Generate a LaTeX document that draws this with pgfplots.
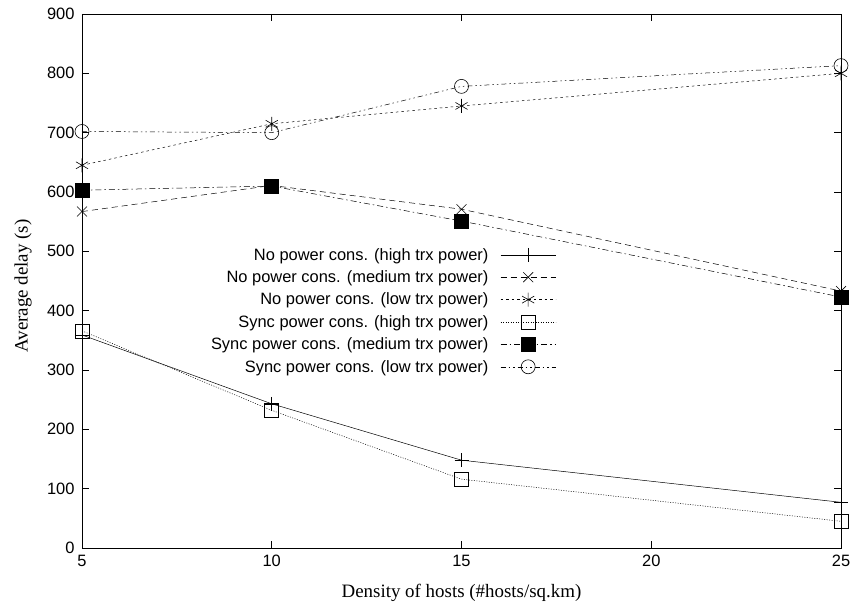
\documentclass[border=0pt]{standalone}
\usepackage{fontspec}
\setmainfont{Liberation Sans}
\newfontfamily\serif{Liberation Serif}
\usepackage{pgfplots}
\pgfplotsset{compat=1.18}
\begin{document}
\begin{tikzpicture}
\begin{axis}[
  width=759bp, height=534bp, scale only axis,
  xmin=5, xmax=25, ymin=0, ymax=900,
  xtick={5,10,15,20,25}, ytick={0,100,...,900},
  tick align=inside, major tick length=7bp,
  tick style={line width=0.6pt, black},
  axis line style={line width=0.8pt},
  /pgf/number format/assume math mode=true,
  tick label style={font=\fontsize{16.5}{18}\selectfont},
  yticklabel style={xshift=-4bp},
  xticklabel style={yshift=-4bp},
  xlabel={\serif Density of hosts (\#hosts/sq.km)},
  ylabel={\serif Average delay (s)},
  label style={font=\fontsize{19}{21}\selectfont},
  xlabel style={at={(axis description cs:0.5,0)}, anchor=base, yshift=-50bp},
  ylabel style={at={(axis description cs:-0.0777,0.4906)}, anchor=center},
  legend plot pos=right,
  legend cell align=right,
  legend style={draw=none, fill=none, at={(0.626,0.5675)}, anchor=north east,
    font=\fontsize{16.5}{18}\selectfont, row sep=5bp, inner sep=1bp,
    /tikz/every odd column/.append style={column sep=10bp}},
  legend image code/.code={\draw[mark repeat=2,mark phase=2,#1] plot coordinates {(0bp,0bp) (27.5bp,0bp) (55bp,0bp)};},
  every axis plot/.append style={line width=0.5pt, black, mark size=7bp, mark options={solid, line width=0.6pt}},
]
\coordinate (sw) at (rel axis cs:0,0);
\coordinate (ne) at (rel axis cs:1,1);
\addplot[mark=+] coordinates {(5,359) (10,243) (15,148) (25,77)};
\addlegendentry{No power cons. (high trx power)}
\addplot[mark=x, dash pattern=on 6bp off 4bp] coordinates {(5,567) (10,611) (15,571) (25,433)};
\addlegendentry{No power cons. (medium trx power)}
\addplot[mark=asterisk, dash pattern=on 2.5bp off 3bp] coordinates {(5,645) (10,715) (15,745) (25,800)};
\addlegendentry{No power cons. (low trx power)}
\addplot[mark=square, dash pattern=on 1bp off 1.5bp] coordinates {(5,366) (10,232) (15,116) (25,45)};
\addlegendentry{Sync power cons. (high trx power)}
\addplot[mark=square*, dash pattern=on 6bp off 3bp on 1.5bp off 3bp] coordinates {(5,603) (10,610) (15,551) (25,423)};
\addlegendentry{Sync power cons. (medium trx power)}
\addplot[mark=o, dash pattern=on 5bp off 3bp on 1.5bp off 3bp on 1.5bp off 3bp] coordinates {(5,702) (10,700) (15,778) (25,813)};
\addlegendentry{Sync power cons. (low trx power)}
\end{axis}
\pgfresetboundingbox
\path ([xshift=-82bp,yshift=-57bp]sw) rectangle ([xshift=12bp,yshift=14bp]ne);
\end{tikzpicture}
\end{document}
